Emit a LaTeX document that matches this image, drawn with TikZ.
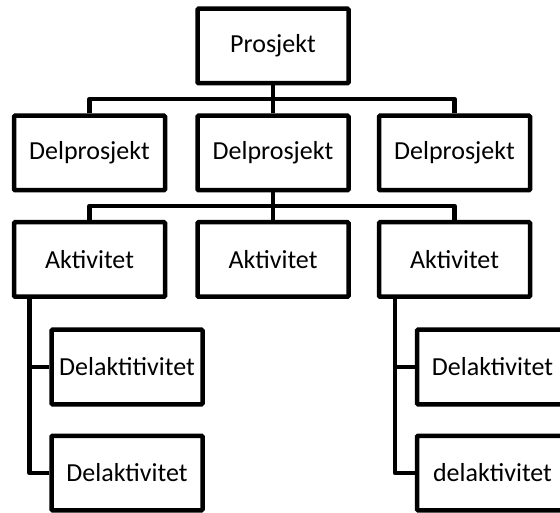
\documentclass[tikz,border=0pt]{standalone}
\usepackage{fontspec}
\setmainfont{Carlito}
\begin{document}
\begin{tikzpicture}[x=1pt,y=1pt,
  box/.style={draw=black, line width=4.5pt, fill=white, rounded corners=1pt,
    minimum width=151pt, minimum height=74.5pt, inner sep=0pt,
    font=\fontsize{26}{30}\selectfont},
  link/.style={draw=black, line width=4.5pt, line join=round}]
\useasboundingbox (0,0) rectangle (560,-513);
\clip (0,0) rectangle (560,-513);

% top level
\node[box] (p) at (273,-46) {Prosjekt};

% sub-projects
\node[box] (d1) at (89.5,-153) {Delprosjekt};
\node[box] (d2) at (273,-153) {Delprosjekt};
\node[box] (d3) at (454.5,-153) {Delprosjekt};

% activities
\node[box] (a1) at (89.5,-259.5) {Aktivitet};
\node[box] (a2) at (273,-259.5) {Aktivitet};
\node[box] (a3) at (454.5,-259.5) {Aktivitet};

% sub-activities
\node[box] (e1) at (127,-367) {Delaktitivitet};
\node[box] (e2) at (127,-473) {Delaktivitet};
\node[box] (f1) at (492.5,-367) {Delaktivitet};
\node[box] (f2) at (492.5,-473) {delaktivitet};

% bus lines and stems
\coordinate (bus1) at (273,-99);
\coordinate (bus2) at (273,-206);
\coordinate (s1) at (29.5,-299);
\coordinate (s2) at (395,-299);

\draw[link] (p.south) -- (d2.north);
\draw[link] (d1.north) |- (bus1) -| (d3.north);
\draw[link] (d2.south) -- (a2.north);
\draw[link] (a1.north) |- (bus2) -| (a3.north);

\draw[link] (s1) |- (e2.west);
\draw[link] (e1.west) -- (e1.west -| s1);
\draw[link] (s2) |- (f2.west);
\draw[link] (f1.west) -- (f1.west -| s2);
\end{tikzpicture}
\end{document}
